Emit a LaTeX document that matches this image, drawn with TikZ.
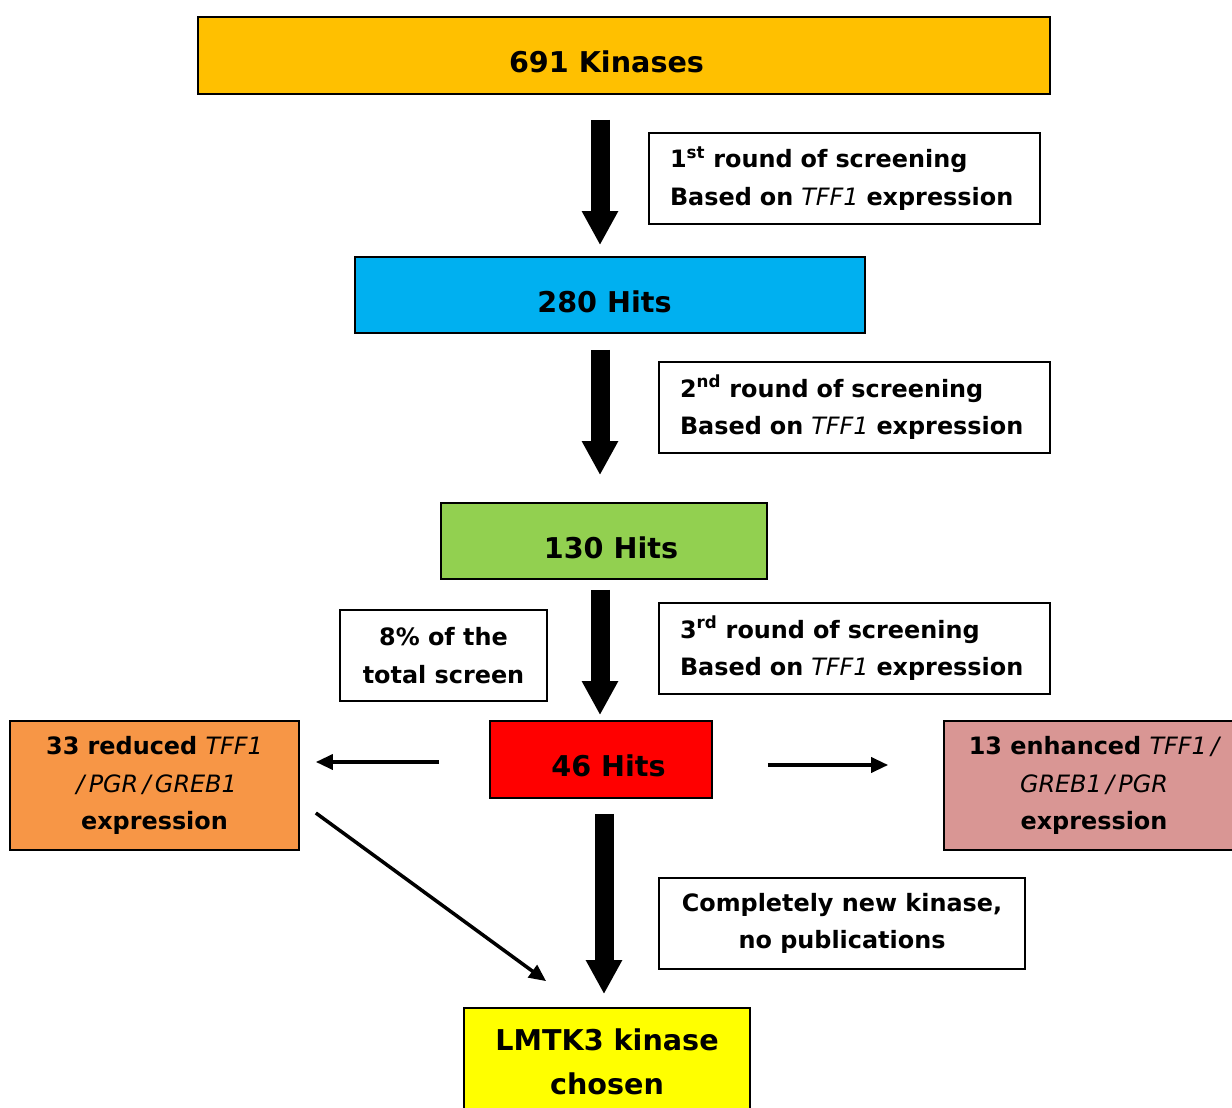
\documentclass[tikz,border=0pt]{standalone}
\usepackage{fontspec}
\setmainfont{DejaVu Sans}
\usetikzlibrary{arrows.meta}

\definecolor{kinorange}{HTML}{FFC000}
\definecolor{hitblue}{HTML}{00B0F0}
\definecolor{hitgreen}{HTML}{92D050}
\definecolor{hitred}{HTML}{FF0000}
\definecolor{loworange}{HTML}{F79646}
\definecolor{highpink}{HTML}{D99694}
\definecolor{pickyellow}{HTML}{FFFF00}

% gene names: italic, not bold; slashes get some air
\newcommand{\genename}[1]{{\mdseries\itshape #1}}
\newcommand{\gslash}{\hspace{0.18em}/\hspace{0.18em}}

\begin{document}
\begin{tikzpicture}[x=0.02cm, y=-0.02cm,
    stage/.style={draw, line width=1pt, align=center, inner sep=0pt,
        font=\fontsize{16.3}{25}\selectfont\bfseries},
    every label/.style={font=\fontsize{16.3}{25}\selectfont\bfseries, yshift=-0.13cm},
    note/.style={draw, line width=1pt, align=left, inner xsep=0.42cm,
        minimum height=1.82cm, font=\fontsize{13.6}{21.4}\selectfont\bfseries},
    side/.style={draw, line width=1pt, align=center, inner sep=0pt,
        font=\fontsize{13.6}{21.4}\selectfont\bfseries},
    bigarrow/.style={line width=0.38cm, -{Triangle[width=0.68cm,length=0.68cm]}},
    thinarrow/.style={line width=2pt, -{Triangle[width=0.3cm,length=0.34cm]}}]

    \useasboundingbox (0,0) rectangle (1232,1108);

    % screening stages, text set a little off the box centre
    \node[stage, fill=kinorange, minimum width=17.04cm, minimum height=1.54cm,
        label={[xshift=-0.35cm]center:691 Kinases}] (kin) at (624,55.5) {};
    \node[stage, fill=hitblue, minimum width=10.2cm, minimum height=1.52cm,
        label={[xshift=-0.11cm]center:280 Hits}] (h280) at (610,295) {};
    \node[stage, fill=hitgreen, minimum width=6.52cm, minimum height=1.52cm,
        label={[xshift=0.14cm]center:130 Hits}] (h130) at (604,541) {};
    \node[stage, fill=hitred, minimum width=4.44cm, minimum height=1.54cm,
        label={[xshift=0.15cm]center:46 Hits}] (h46) at (601,759.5) {};
    \node[stage, fill=pickyellow, minimum width=5.72cm, minimum height=2.16cm] (lmtk) at (607,1062) {LMTK3 kinase\\chosen};

    % split of the 46 hits
    \node[side, fill=loworange, minimum width=5.78cm, minimum height=2.58cm] (red33) at (154.5,785.5)
        {33 reduced \genename{TFF1}\\\genename{\gslash PGR\gslash GREB1}\\expression};
    \node[side, fill=highpink, minimum width=6.0cm, minimum height=2.58cm] (enh13) at (1094,785.5)
        {13 enhanced \genename{TFF1\gslash}\\\genename{GREB1\gslash PGR}\\expression};

    % notes beside the arrows
    \node[note, text width=6.98cm] (r1) at (844.5,178.5)
        {1\textsuperscript{st} round of screening\\Based on \genename{TFF1} expression};
    \node[note, text width=6.98cm] (r2) at (854.5,407.5)
        {2\textsuperscript{nd} round of screening\\Based on \genename{TFF1} expression};
    \node[note, text width=6.98cm] (r3) at (854.5,648.5)
        {3\textsuperscript{rd} round of screening\\Based on \genename{TFF1} expression};
    \node[side, minimum width=4.14cm, minimum height=1.82cm] (pct) at (443.5,655.5) {8\% of the\\total screen};
    \node[side, minimum width=7.32cm, minimum height=1.82cm] (novel) at (842,923.5) {Completely new kinase,\\no publications};

    \coordinate (spine) at (600,0);
    \coordinate (spine4) at (604,0);

    \draw[bigarrow, shorten <=0.5cm, shorten >=0.22cm] (kin.south -| spine) -- (h280.north -| spine);
    \draw[bigarrow, shorten <=0.32cm, shorten >=0.54cm] (h280.south -| spine) -- (h130.north -| spine);
    \draw[bigarrow, shorten <=0.2cm, shorten >=0.1cm] (h130.south -| spine) -- (h46.north -| spine);
    \draw[bigarrow, shorten <=0.3cm, shorten >=0.26cm] (h46.south -| spine4) -- (lmtk.north -| spine4);

    \draw[thinarrow, shorten <=1.0cm, shorten >=0.32cm] ([yshift=-0.05cm]h46.west) -- ([yshift=-0.05cm]h46.west -| red33.east);
    \draw[thinarrow, shorten <=1.1cm, shorten >=1.1cm] ([yshift=-0.11cm]h46.east) -- ([yshift=-0.11cm]h46.east -| enh13.west);
    \draw[thinarrow] ([xshift=0.32cm,yshift=-0.55cm]red33.east) -- ([xshift=1.66cm,yshift=0.52cm]lmtk.north west);
\end{tikzpicture}
\end{document}
